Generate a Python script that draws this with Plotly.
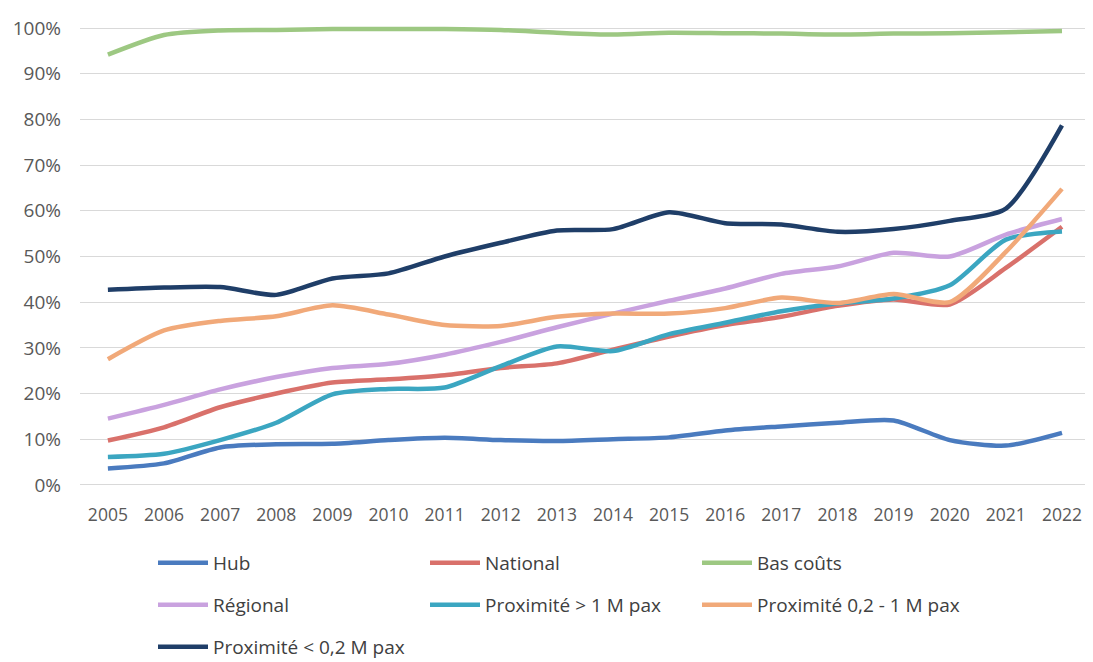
import plotly.graph_objects as go

years = list(range(2005, 2023))
year_labels = [str(y) for y in years]

hub = [3.6, 4.7, 8.2, 8.9, 9.0, 9.8, 10.3, 9.8, 9.6, 10.0, 10.4, 11.9, 12.8, 13.6, 14.1, 9.8, 8.6, 11.4]
national = [9.7, 12.6, 17.0, 20.0, 22.4, 23.1, 24.0, 25.6, 26.6, 29.6, 32.5, 35.0, 36.8, 39.2, 40.6, 39.5, 47.5, 56.5]
bas_couts = [94.2, 98.5, 99.5, 99.6, 99.8, 99.8, 99.8, 99.6, 99.0, 98.6, 99.0, 98.9, 98.8, 98.6, 98.8, 98.9, 99.1, 99.4]
regional = [14.5, 17.5, 20.9, 23.6, 25.6, 26.5, 28.5, 31.3, 34.5, 37.5, 40.3, 43.0, 46.2, 47.8, 50.8, 50.0, 54.8, 58.2]
prox_gt1 = [6.1, 6.8, 9.8, 13.6, 19.8, 21.0, 21.3, 26.0, 30.3, 29.3, 33.0, 35.5, 38.0, 39.7, 40.8, 43.7, 53.7, 55.5]
prox_02_1 = [27.5, 33.8, 35.9, 36.9, 39.3, 37.3, 35.0, 34.8, 36.8, 37.5, 37.5, 38.7, 41.0, 39.8, 41.8, 40.0, 51.0, 64.8]
prox_lt02 = [42.7, 43.2, 43.3, 41.6, 45.2, 46.3, 50.0, 53.0, 55.7, 56.0, 59.7, 57.3, 57.0, 55.4, 56.0, 57.8, 60.5, 78.7]

series = [
    ("Hub", hub, "#4a7bbf", "legend"),
    ("National", national, "#d9716b", "legend"),
    ("Bas coûts", bas_couts, "#9dc882", "legend"),
    ("Régional", regional, "#c9a2df", "legend2"),
    ("Proximité > 1 M pax", prox_gt1, "#3ba6c1", "legend2"),
    ("Proximité 0,2 - 1 M pax", prox_02_1, "#f1a979", "legend2"),
    ("Proximité < 0,2 M pax", prox_lt02, "#1f3e68", "legend3"),
]

fig = go.Figure()
for name, vals, color, lg in series:
    fig.add_trace(go.Scatter(
        x=years, y=[v / 100 for v in vals], name=name, mode="lines",
        line=dict(color=color, width=4.5, shape="spline", smoothing=0.7),
        legend=lg,
    ))

# page has an 8px body margin; the figure is sized to fit the visible window
W, H = 1077, 654
L, R, T, B = 72, 0, 11, 168

legend_font = dict(family="Open Sans, sans-serif", size=19, color="#404040")
common = dict(orientation="h", xref="container", yref="container", xanchor="left", yanchor="middle",
              entrywidth=207, entrywidthmode="pixels", itemwidth=50, font=legend_font,
              bgcolor="rgba(0,0,0,0)", traceorder="normal", itemclick=False)

def cy(py):
    return 1 - py / H

fig.update_layout(
    width=W, height=H,
    margin=dict(l=L, r=R, t=T, b=B, autoexpand=False),
    paper_bgcolor="white", plot_bgcolor="white",
    font=dict(family="Open Sans, sans-serif", color="#595959", size=19),
    xaxis=dict(range=[2004.503, 2022.41], tickmode="array", tickvals=years, ticktext=year_labels,
               showgrid=False, zeroline=False, showline=False, ticks="", ticklabelstandoff=8,
               ticklabeloverflow="allow", automargin=False, tickfont=dict(size=17.5, color="#595959")),
    yaxis=dict(range=[-0.02, 1.02], tickvals=[i / 10 for i in range(11)], tickformat=".0%",
               showgrid=True, gridcolor="#d9d9d9", gridwidth=1.2, zeroline=False, showline=False,
               ticks="", ticklabelstandoff=18, automargin=False, tickfont=dict(size=19, color="#595959")),
    legend=dict(x=145 / W, y=cy(555), **common),
    legend2=dict(x=145 / W, y=cy(597), **common),
    legend3=dict(x=145 / W, y=cy(639), **common),
    showlegend=True,
)

fig.write_html("out.html")
